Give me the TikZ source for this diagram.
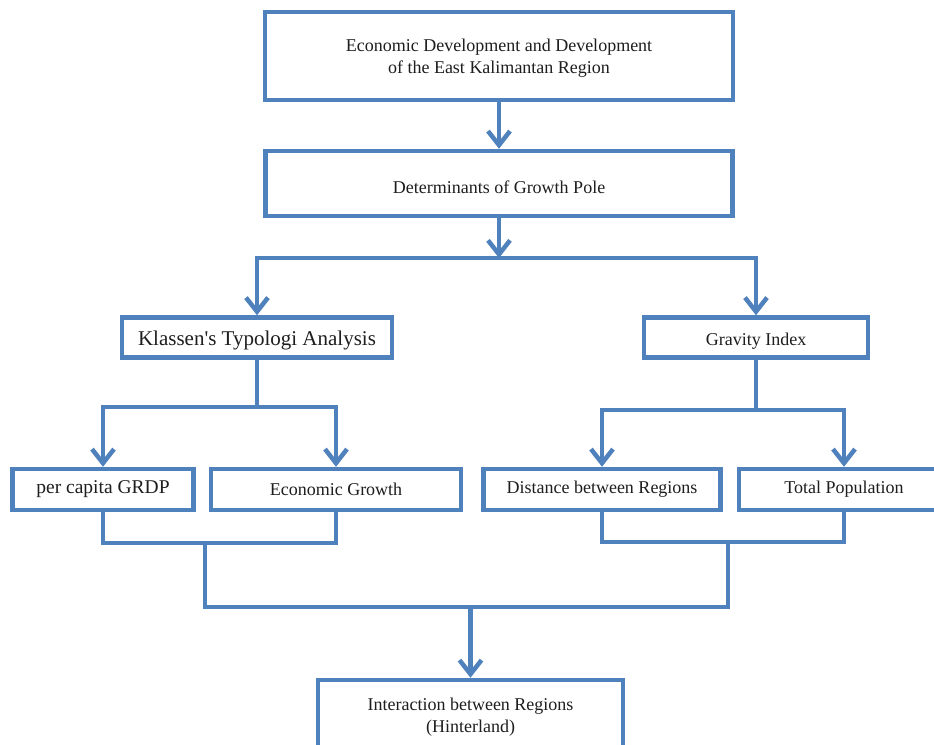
\documentclass[tikz,border=0pt]{standalone}
\usepackage{fontspec}
\setmainfont{Liberation Serif}
\usetikzlibrary{arrows.meta}
\definecolor{lineblue}{HTML}{4F81BD}
\definecolor{txt}{HTML}{1E1E1E}
\tikzset{
  box/.style={draw=lineblue, line width=4.5pt, fill=white, inner sep=0pt, align=center,
    text=txt, font=\fontsize{18}{22}\selectfont},
  ln/.style={draw=lineblue, line width=4.5pt, line join=miter},
  arr/.style={ln, -{Straight Barb[length=14pt,width=22pt,line join=miter,line cap=butt]}},
}
\begin{document}
\begin{tikzpicture}[x=1pt,y=-1pt]
\path[use as bounding box, clip] (0,0) rectangle (934,744);
\fill[white] (0,0) rectangle (934,744);

\node[box, minimum width=468pt, minimum height=88pt, text depth=0pt] (b1) at (499,56)
  {Economic Development and Development\\of the East Kalimantan Region};
\node[box, minimum width=467pt, minimum height=65pt, text height=19pt, text depth=0pt] (b2) at (499,183.5)
  {Determinants of Growth Pole};

\node[box, minimum width=270pt, minimum height=40pt, text height=16pt, text depth=0pt,
  font=\fontsize{21}{24}\selectfont] (kl) at (257,337.5)
  {Klassen\textquotesingle s Typologi Analysis};
\node[box, minimum width=224pt, minimum height=40pt, text height=16pt, text depth=0pt] (gi) at (756,337.5)
  {Gravity Index};

\node[box, minimum width=181pt, minimum height=41pt, font=\fontsize{19.5}{23}\selectfont] (pc) at (103,489.5)
  {per capita GRDP};
\node[box, minimum width=250pt, minimum height=41pt] (eg) at (336,489.5)
  {Economic Growth};
\node[box, minimum width=237pt, minimum height=41pt] (db) at (602,489.5)
  {Distance between Regions};
\node[box, minimum width=210pt, minimum height=41pt] (tp) at (844,489.5)
  {Total Population};

\node[box, minimum width=305pt, minimum height=74pt] (ib) at (470.5,717)
  {Interaction between Regions\\(Hinterland)};

\coordinate (j1) at (499,258);
\coordinate (j2) at (257,407);
\coordinate (j3) at (756,410);
\coordinate (j4) at (205,543);
\coordinate (j5) at (728,542);
\coordinate (j6) at (470.5,607);

\draw[arr] (b1.south) -- (b2.north);
\draw[arr] (b2.south) -- (j1);
\draw[arr] (j1) -| (kl.north);
\draw[arr] (j1) -| (gi.north);

\draw[ln] (kl.south) -- (j2);
\draw[arr] (j2) -| (pc.north);
\draw[arr] (j2) -| (eg.north);

\draw[ln] (gi.south) -- (j3);
\draw[arr] (j3) -| (db.north);
\draw[arr] (j3) -| (tp.north);

\draw[ln] (pc.south) |- (j4) -| (eg.south);
\draw[ln] (db.south) |- (j5) -| (tp.south);
\draw[ln] (j4) |- (j6) -| (j5);
\draw[arr] (j6) -- (ib.north);
\end{tikzpicture}
\end{document}
